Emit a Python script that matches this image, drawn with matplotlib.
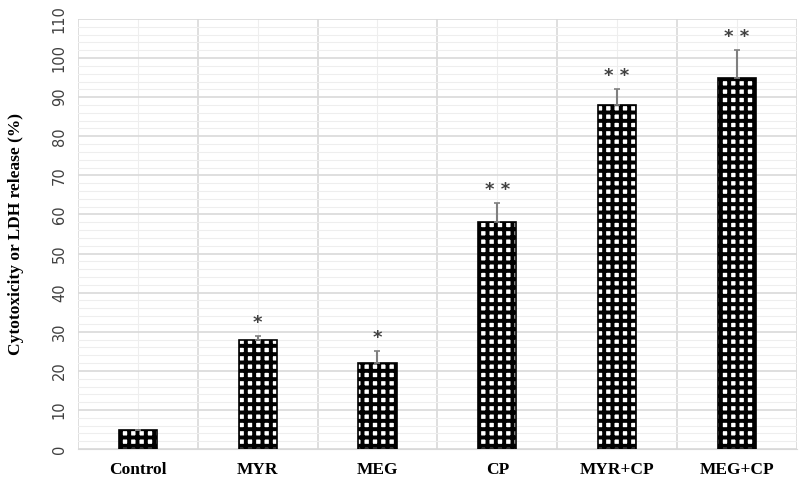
import numpy as np
import matplotlib.pyplot as plt
from matplotlib.ticker import MultipleLocator

groups = ["Control", "MYR", "MEG", "CP", "MYR+CP", "MEG+CP"]
values = [5, 28, 22, 58, 88, 95]
errors = [0, 1, 3, 5, 4, 7]
stars = ["", "*", "*", "* *", "* *", "* *"]

plt.rcParams["hatch.linewidth"] = 2.85

fig = plt.figure(figsize=(8, 4.86), dpi=100)
ax = fig.add_axes([0.0975, 0.076, 0.8985, 0.885])

x = np.arange(len(groups))
w = 0.32

# white fill with a thick black grid hatch -> white dots on black
ax.bar(x, values, w, color="white", edgecolor="black", hatch="++", linewidth=0, zorder=3)
ax.bar(x, values, w, color="none", edgecolor="black", linewidth=1.2, zorder=5)

ax.errorbar(x, values, yerr=[np.zeros(len(errors)), errors], fmt="none",
            ecolor="#7f7f7f", elinewidth=1.5, capsize=2.5, capthick=1.2, zorder=6)

for xi, v, e, s in zip(x, values, errors, stars):
    if s:
        ax.text(xi, v + e + 1.0, s, ha="center", va="bottom",
                fontsize=13, fontweight="bold", color="#404040", zorder=7)

ax.set_xlim(-0.5, len(groups) - 0.5)
ax.set_ylim(0, 110)
ax.yaxis.set_major_locator(MultipleLocator(10))
ax.yaxis.set_minor_locator(MultipleLocator(2))
ax.set_xticks(x)
ax.set_xticks(np.arange(-0.5, len(groups), 1), minor=True)
ax.set_xticklabels(groups, fontfamily="Liberation Serif", fontweight="bold", fontsize=12.5)

ax.grid(which="major", axis="y", color="#d9d9d9", linewidth=1.2, zorder=0)
ax.grid(which="minor", axis="y", color="#eeeeee", linewidth=0.8, zorder=0)
ax.grid(which="minor", axis="x", color="#d9d9d9", linewidth=1.2, zorder=0)
ax.grid(which="major", axis="x", color="#eeeeee", linewidth=0.8, zorder=0)

for sp in ["top", "right", "left"]:
    ax.spines[sp].set_visible(False)
ax.spines["bottom"].set_color("#d9d9d9")
ax.tick_params(axis="both", which="both", length=0)
ax.tick_params(axis="x", pad=9)
ax.tick_params(axis="y", pad=8)
for lab in ax.get_yticklabels():
    lab.set_rotation(90)
    lab.set_va("center")
    lab.set_fontsize(10.5)
    lab.set_color("#404040")

ax.set_ylabel("Cytotoxicity or LDH release (%)", fontfamily="Liberation Serif",
              fontweight="bold", fontsize=12.5, labelpad=20)

fig.savefig("out.png", dpi=100)
